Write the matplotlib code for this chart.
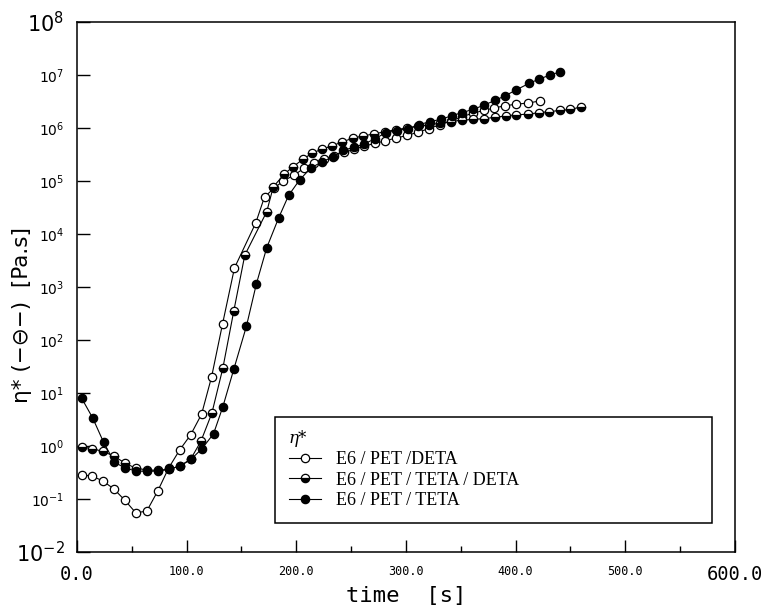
import matplotlib
matplotlib.use("Agg")
import matplotlib.pyplot as plt
from matplotlib.lines import Line2D
from matplotlib.ticker import FixedLocator, NullLocator

# ---------------- data ----------------
t_deta = [4.5, 13.6, 23.6, 33.6, 43.6, 53.6, 63.6, 73.6, 83.6, 93.6, 103.6, 113.6,
          122.7, 132.7, 143.6, 163, 171, 180, 188, 198, 207, 216, 225, 234, 243.6,
          253, 262, 272, 281, 291, 301, 311, 321, 331, 341, 351, 361, 371, 380.6,
          390.6, 400.6, 411, 422]
eta_deta = [0.284, 0.272, 0.219, 0.155, 0.095, 0.055, 0.059, 0.141, 0.385, 0.84, 1.62,
            3.98, 20, 200, 2290, 16200, 50100, 74100, 1.0e5, 1.29e5, 1.74e5, 2.14e5,
            2.57e5, 3.02e5, 3.47e5, 3.98e5, 4.57e5, 5.13e5, 5.75e5, 6.46e5, 7.24e5,
            8.32e5, 9.77e5, 1.15e6, 1.35e6, 1.62e6, 1.91e6, 2.14e6, 2.40e6, 2.63e6,
            2.82e6, 2.95e6, 3.24e6]

t_teta_deta = [4.5, 13.6, 23.6, 33.6, 43.6, 53.6, 63.6, 73.6, 83.6, 93.6, 103.6, 113,
               123, 133, 143, 153, 173, 179, 189, 197, 206, 214, 223, 232.5, 242, 252,
               261, 271, 281, 291, 301, 311, 321, 331, 341, 351, 361, 371, 381, 391,
               400.6, 411, 421, 430.6, 440.6, 450, 460]
eta_teta_deta = [0.955, 0.891, 0.794, 0.646, 0.479, 0.380, 0.355, 0.347, 0.363, 0.417,
                 0.562, 1.23, 4.17, 29.5, 355, 3980, 26300, 77600, 1.35e5, 1.86e5,
                 2.57e5, 3.31e5, 3.98e5, 4.57e5, 5.50e5, 6.46e5, 7.08e5, 7.76e5, 8.51e5,
                 9.33e5, 1.0e6, 1.07e6, 1.15e6, 1.23e6, 1.32e6, 1.41e6, 1.45e6, 1.51e6,
                 1.58e6, 1.70e6, 1.78e6, 1.82e6, 1.95e6, 2.04e6, 2.14e6, 2.24e6, 2.51e6]

t_teta = [4.3, 14.3, 24.3, 34, 44, 54, 64, 74, 84, 94, 104, 114, 124.5, 133, 143, 154.5,
          163.6, 173, 184, 193, 203, 213, 223, 233, 243, 253, 262, 272, 281.5, 292, 302,
          312, 321.5, 331.5, 341.5, 351, 361, 371, 381, 390.6, 400.6, 412, 421, 431.5,
          440.6]
eta_teta = [7.94, 3.39, 1.17, 0.50, 0.38, 0.339, 0.331, 0.339, 0.363, 0.417, 0.562, 0.891,
            1.70, 5.50, 28.2, 182, 1150, 5500, 20400, 53700, 1.05e5, 1.74e5, 2.29e5,
            2.82e5, 3.80e5, 4.37e5, 5.01e5, 6.31e5, 8.13e5, 8.91e5, 9.77e5, 1.15e6,
            1.32e6, 1.45e6, 1.70e6, 1.95e6, 2.24e6, 2.69e6, 3.31e6, 4.07e6, 5.25e6,
            6.92e6, 8.32e6, 1.0e7, 1.15e7]

labels = ["E6 / PET /DETA", "E6 / PET / TETA / DETA", "E6 / PET / TETA"]

x_ticks = [0, 100, 200, 300, 400, 500, 600]
x_tick_labels = ["0.0", "100.0", "200.0", "300.0", "400.0", "500.0", "600.0"]
x_minor = [50, 150, 250, 350, 450, 550]
y_exps = [-2, -1, 0, 1, 2, 3, 4, 5, 6, 7, 8]

# ---------------- figure ----------------
fig = plt.figure(figsize=(7.63, 6.13), dpi=100)
ax = fig.add_axes([0.1009, 0.0995, 0.8624, 0.8646])
ax.set_yscale("log")
ax.set_xlim(0, 600)
ax.set_ylim(1e-2, 1e8)

ms = 6.0
common = dict(color="black", lw=0.8, markersize=ms, markeredgewidth=0.9,
              markeredgecolor="black")
ax.plot(t_deta, eta_deta, marker="o", markerfacecolor="white", **common)
ax.plot(t_teta_deta, eta_teta_deta, marker="o", fillstyle="bottom",
        markerfacecolor="black", markerfacecoloralt="white", **common)
ax.plot(t_teta, eta_teta, marker="o", markerfacecolor="black", **common)

# ticks
ax.xaxis.set_major_locator(FixedLocator(x_ticks))
ax.xaxis.set_minor_locator(FixedLocator(x_minor))
ax.set_xticklabels(x_tick_labels, family="DejaVu Sans Mono")
ax.yaxis.set_major_locator(FixedLocator([10.0 ** e for e in y_exps]))
ax.yaxis.set_minor_locator(NullLocator())
ax.set_yticklabels([r"$\mathregular{10^{%d}}$" % e for e in y_exps])

ax.tick_params(axis="x", which="major", direction="in", length=9, width=1.0,
               pad=9, labelsize=8.5, top=False)
ax.tick_params(axis="x", which="minor", direction="in", length=4.5, width=1.0, top=False)
ax.tick_params(axis="y", which="major", direction="in", length=9.5, width=1.0,
               pad=9, labelsize=10, right=False)

xl = ax.get_xticklabels()
for i in (0, len(xl) - 1):
    xl[i].set_fontsize(13.5)
    xl[i].set_family("DejaVu Sans Mono")
yl = ax.get_yticklabels()
for i in (0, len(yl) - 1):
    yl[i].set_fontsize(15)

for s in ax.spines.values():
    s.set_linewidth(1.1)
    s.set_color("black")

ax.set_xlabel("time  [s]", family="DejaVu Sans Mono", fontsize=16, labelpad=2)
ax.set_ylabel("η* (−⊖−)  [Pa.s]", family="DejaVu Sans", fontsize=15.5)
ax.yaxis.set_label_coords(-0.068, 0.447)

# legend
handles = [
    Line2D([], [], marker="o", markerfacecolor="white", **common),
    Line2D([], [], marker="o", fillstyle="bottom", markerfacecolor="black",
           markerfacecoloralt="white", **common),
    Line2D([], [], marker="o", markerfacecolor="black", **common),
]
leg = ax.legend(handles, labels, title="η*", loc="lower left",
                bbox_to_anchor=(0.301, 0.055, 0.664, 0.21), mode="expand",
                borderaxespad=0, fancybox=False, framealpha=1, edgecolor="black",
                prop={"family": "Liberation Serif", "size": 13},
                title_fontproperties={"family": "DejaVu Serif", "style": "italic",
                                      "size": 12},
                alignment="left", handlelength=1.8, handletextpad=0.8,
                labelspacing=0.2, borderpad=0.75)
leg.get_frame().set_linewidth(1.1)

fig.savefig("out.png", dpi=100, facecolor="white")
